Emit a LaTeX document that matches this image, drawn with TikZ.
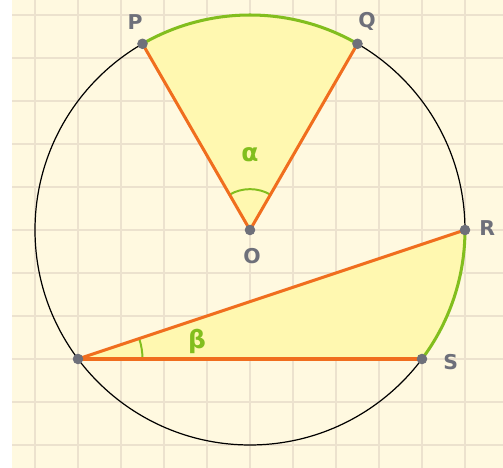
\documentclass[tikz,border=0pt]{standalone}
\usepackage{fontspec}
\setmainfont{DejaVu Sans}
\definecolor{paper}{RGB}{255,249,224}
\definecolor{gridc}{RGB}{236,226,206}
\definecolor{fillc}{RGB}{255,248,176}
\definecolor{segc}{RGB}{240,110,30}
\definecolor{arcc}{RGB}{130,190,30}
\definecolor{dotc}{RGB}{110,112,122}
\begin{document}
\begin{tikzpicture}[
    every node/.style={font=\fontsize{13.5}{15}\selectfont\bfseries},
    gridline/.style={gridc, line width=0.8pt},
    area/.style={fill=fillc},
    seg/.style={segc, line width=2pt},
    bow/.style={arcc, line width=2pt},
    mark angle/.style={arcc, line width=1.3pt},
    dot/.style={circle, fill=dotc, inner sep=0pt, minimum size=7pt},
    lbl/.style={text=dotc, inner sep=0pt},
    greek/.style={text=arcc, inner sep=0pt, font=\fontsize{16.5}{18}\selectfont\bfseries}
]
\useasboundingbox (-5.814,-5.535) rectangle (5.884,5.349);
\fill[paper] (-5.535,-5.535) rectangle (5.884,5.349);
\draw[gridline] (-5.535,-5.535) grid (5.884,5.349);
% points on the circle
\coordinate (O) at (0,0);
\coordinate (P) at (120:5);
\coordinate (Q) at (60:5);
\coordinate (R) at (0:5);
\coordinate (S) at (4,-3);
\coordinate (T) at (-4,-3);
% shaded regions
\fill[area] (O) -- (P) arc[start angle=120, end angle=60, radius=5] -- cycle;
\fill[area] (T) -- (R) arc[start angle=0, end angle=-36.87, radius=5] -- cycle;
\draw[black, line width=0.8pt] (O) circle[radius=5];
\draw[bow] (P) arc[start angle=120, end angle=60, radius=5];
\draw[bow] (R) arc[start angle=0, end angle=-36.87, radius=5];
% angles
\draw[mark angle] ([shift={(60:0.95)}]O) arc[start angle=60, end angle=120, radius=0.95];
\draw[mark angle] ([shift={(0:1.5)}]T) arc[start angle=0, end angle=18.43, radius=1.5];
\node[greek] (alpha) at (0,1.74) {α};
\node[greek] (beta) at (-1.23,-2.6) {β};
% chords and radii
\draw[seg] (O) -- (P);
\draw[seg] (O) -- (Q);
\draw[seg] (T) -- (R);
\draw[seg] (T) -- (S);
\node[dot] (p) at (P) {};
\node[dot] (q) at (Q) {};
\node[dot] (r) at (R) {};
\node[dot] (s) at (S) {};
\node[dot] (o) at (O) {};
\node[dot] (t) at (T) {};
% labels
\node[lbl] (lp) at (-2.67,4.84) {P};
\node[lbl] (lq) at (2.72,4.84) {Q};
\node[lbl] (lo) at (0.05,-0.6) {O};
\node[lbl] (lr) at (5.52,0.05) {R};
\node[lbl] (ls) at (4.67,-3.07) {S};
\end{tikzpicture}
\end{document}
